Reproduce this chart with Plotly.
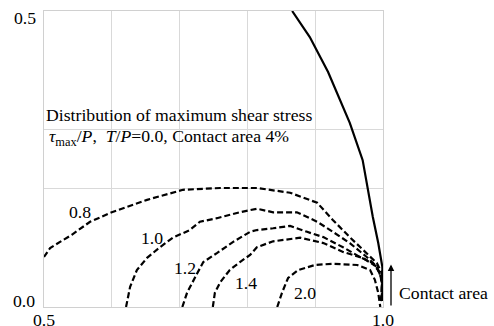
import plotly.graph_objects as go

# Solid boundary line
solid_x = [0.866, 0.892, 0.919, 0.951, 0.970, 0.978, 0.985, 0.993, 0.999, 1.0, 1.0]
solid_y = [0.500, 0.456, 0.397, 0.311, 0.248, 0.193, 0.152, 0.108, 0.068, 0.024, 0.010]

# Contours of tau_max / P
c08_x = [0.5, 0.509, 0.541, 0.568, 0.600, 0.652, 0.705, 0.760, 0.814, 0.863, 0.903, 0.926, 0.951, 0.976, 0.991, 0.9985, 1.0]
c08_y = [0.0845, 0.0997, 0.122, 0.144, 0.160, 0.181, 0.198, 0.201, 0.201, 0.193, 0.176, 0.147, 0.118, 0.091, 0.074, 0.057, 0.015]
c10_x = [0.621, 0.627, 0.637, 0.652, 0.671, 0.690, 0.715, 0.730, 0.755, 0.789, 0.814, 0.838, 0.873, 0.903, 0.926, 0.951, 0.976, 0.991, 0.9985, 0.999]
c10_y = [0.0, 0.034, 0.0625, 0.083, 0.101, 0.117, 0.130, 0.144, 0.150, 0.160, 0.166, 0.160, 0.160, 0.144, 0.127, 0.108, 0.0845, 0.068, 0.046, 0.012]
c12_x = [0.704, 0.711, 0.726, 0.735, 0.755, 0.779, 0.804, 0.814, 0.838, 0.863, 0.888, 0.912, 0.941, 0.966, 0.985, 0.996, 0.9985, 0.998]
c12_y = [0.0, 0.024, 0.057, 0.076, 0.091, 0.110, 0.127, 0.130, 0.133, 0.137, 0.127, 0.118, 0.101, 0.0845, 0.074, 0.057, 0.034, 0.010]
c14_x = [0.749, 0.752, 0.760, 0.774, 0.789, 0.804, 0.814, 0.838, 0.878, 0.912, 0.941, 0.970, 0.991, 0.9985, 0.997]
c14_y = [0.0, 0.024, 0.042, 0.0625, 0.076, 0.088, 0.101, 0.111, 0.117, 0.108, 0.093, 0.083, 0.068, 0.046, 0.010]
c20_x = [0.844, 0.851, 0.860, 0.875, 0.900, 0.926, 0.962, 0.981, 0.988, 0.993, 0.996]
c20_y = [0.0, 0.024, 0.049, 0.0625, 0.071, 0.073, 0.071, 0.0625, 0.046, 0.024, 0.0]

labels = ["0.8", "1.0", "1.2", "1.4", "2.0"]
label_x = [0.553, 0.659, 0.708, 0.798, 0.885]
label_y = [0.160, 0.117, 0.066, 0.041, 0.024]

x_ticks = [0.5, 0.6, 0.7, 0.8, 0.9, 1.0]
y_grid = [0.0, 0.2, 0.3, 0.5]

FONT = "'Liberation Serif', 'Times New Roman', serif"
FS = 17.7
fig = go.Figure()
fig.add_trace(go.Scatter(x=solid_x, y=solid_y, mode="lines",
                         line=dict(color="black", width=2.2), hoverinfo="skip"))
for cx, cy in [(c08_x, c08_y), (c10_x, c10_y), (c12_x, c12_y), (c14_x, c14_y), (c20_x, c20_y)]:
    fig.add_trace(go.Scatter(x=cx, y=cy, mode="lines",
                             line=dict(color="black", width=2.2, dash="6px,3px"), hoverinfo="skip"))

for t, lx, ly in zip(labels, label_x, label_y):
    fig.add_annotation(x=lx, y=ly, text=t, showarrow=False,
                       font=dict(family=FONT, size=FS, color="black"))

# tick labels
fig.add_annotation(x=0.5, y=0, yshift=-1, text="0.5", showarrow=False, yanchor="top",
                   font=dict(family=FONT, size=FS, color="black"))
fig.add_annotation(x=1.0, y=0, yshift=-1, text="1.0", showarrow=False, yanchor="top",
                   font=dict(family=FONT, size=FS, color="black"))
fig.add_annotation(x=0.5, y=0.5, xshift=-6, yshift=-7, text="0.5", showarrow=False, xanchor="right",
                   font=dict(family=FONT, size=FS, color="black"))
fig.add_annotation(x=0.5, y=0.0, xshift=-7, yshift=6, text="0.0", showarrow=False, xanchor="right",
                   font=dict(family=FONT, size=FS, color="black"))

# title texts
fig.add_annotation(x=0.5, y=0.324, text="Distribution of maximum shear stress", showarrow=False,
                   xanchor="left", font=dict(family=FONT, size=FS, color="black"))
fig.add_annotation(x=0.5, y=0.287, xshift=3,
                   text="<i>τ</i><sub>max</sub>/<i>P</i>,  <i>T</i>/<i>P</i>=0.0, Contact area 4%",
                   showarrow=False, xanchor="left", font=dict(family=FONT, size=FS, color="black"))

# contact area arrow and label
fig.add_annotation(x=1.0, y=0.072, ax=1.0, ay=0.0, axref="x", ayref="y", xshift=8,
                   showarrow=True, arrowhead=2, arrowsize=1, arrowwidth=1.3, arrowcolor="black", text="")
fig.add_annotation(x=1.0, y=0.024, xshift=14, text="Contact area", showarrow=False, xanchor="left",
                   font=dict(family=FONT, size=FS, color="black"))

fig.update_layout(
    width=494, height=326, margin=dict(l=44, r=111, t=11, b=19),
    plot_bgcolor="white", paper_bgcolor="white", showlegend=False,
    xaxis=dict(range=[0.5, 1.0], tickvals=x_ticks, showticklabels=False, showgrid=True,
               gridcolor="#d9d9d9", gridwidth=1, zeroline=False,
               showline=True, linecolor="#d0d0d0", linewidth=1, mirror=True, ticks=""),
    yaxis=dict(range=[0, 0.5], tickvals=y_grid, showticklabels=False, showgrid=True,
               gridcolor="#d9d9d9", gridwidth=1, zeroline=False,
               showline=True, linecolor="#d0d0d0", linewidth=1, mirror=True, ticks=""),
)
fig.write_html("out.html")
